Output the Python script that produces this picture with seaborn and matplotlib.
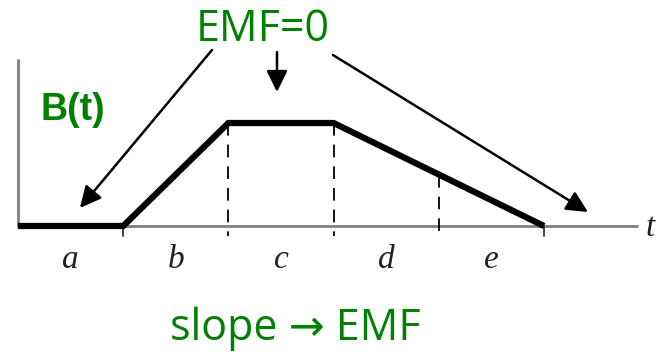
import numpy as np
import pandas as pd
import matplotlib
matplotlib.use('Agg', force=True)
import matplotlib.pyplot as plt
import seaborn as sns

# B(t) curve knots (time in segment units, B normalised to plateau = 1)
t_knots = [0, 1, 2, 3, 5]
b_vals = [0, 0, 1, 1, 0]

# dashed guide lines and small ticks on the time axis
dash_t = [2, 3, 4]
tick_t = [1, 5]

# segment labels, centred in each interval
seg_labels = ["a", "b", "c", "d", "e"]
seg_centers = [0.5, 1.5, 2.5, 3.5, 4.5]

green = "#008000"

sns.set_theme(style="white")

fig = plt.figure(figsize=(6.64, 3.55), dpi=100)
ax = fig.add_axes([0, 0, 1, 1])
ax.set_xlim(-0.1711, 6.1407)
ax.set_ylim(-1.2524, 2.1942)
ax.axis("off")

# axes drawn as plain lines
ax.plot([0, 5.884], [0, 0], color="#7f7f7f", lw=2, zorder=1)
ax.plot([0, 0], [0, 1.61], color="#7f7f7f", lw=2, zorder=1)

# the curve
curve = pd.DataFrame({"t": t_knots, "B": b_vals})
sns.lineplot(data=curve, x="t", y="B", color="black", lw=4.5, ax=ax,
             zorder=3, solid_joinstyle="miter", solid_capstyle="butt")

# dashed verticals from the curve down past the axis
for td in dash_t:
    top = np.interp(td, t_knots, b_vals)
    ln, = ax.plot([td, td], [top, -0.1], color="black", lw=1.3, zorder=2)
    ln.set_dashes([7, 5])

for tt in tick_t:
    ax.plot([tt, tt], [0, -0.1], color="#333333", lw=1.3, zorder=2)

for lab, tc in zip(seg_labels, seg_centers):
    ax.text(tc, -0.33, lab, ha="center", va="center", fontsize=24,
            family="Liberation Serif", style="italic", color="#222222")
ax.text(6.01, -0.02, "t", ha="center", va="center", fontsize=24,
        family="Liberation Serif", style="italic", color="#222222")

ax.text(0.523, 1.126, "B(t)", ha="center", va="center", fontsize=27,
        family="Liberation Sans", weight="bold", color=green)

ax.text(2.329, 1.91, "EMF=0", ha="center", va="center", fontsize=31,
        family=["Open Sans", "DejaVu Sans"], weight="medium", color=green)
ax.text(2.633, -1.0, "slope \u2192 EMF", ha="center", va="center", fontsize=31,
        family=["Open Sans", "DejaVu Sans"], weight="medium", color=green)

arrow_style = dict(arrowstyle="-|>,head_length=0.65,head_width=0.32",
                   color="black", lw=1.8, mutation_scale=20,
                   shrinkA=0, shrinkB=0)
ax.annotate("", xy=(0.589, 0.175), xytext=(1.844, 1.709), arrowprops=arrow_style)
ax.annotate("", xy=(2.462, 1.301), xytext=(2.462, 1.689), arrowprops=arrow_style)
ax.annotate("", xy=(5.418, 0.136), xytext=(2.994, 1.660), arrowprops=arrow_style)

fig.savefig("out.png", dpi=100)
